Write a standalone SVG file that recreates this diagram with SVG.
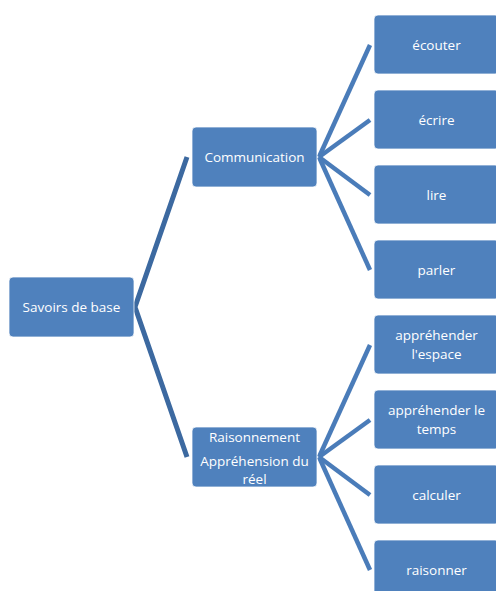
<svg xmlns="http://www.w3.org/2000/svg" width="496" height="591" viewBox="0 0 496 591">
<style>
.box{fill:#4F81BD;stroke:#ffffff;stroke-width:0.75}
.t{fill:#ffffff;font-family:"Open Sans","Noto Sans","Liberation Sans",sans-serif;font-size:13.5px;text-anchor:middle}
.c1{stroke:#3C69A0;stroke-width:5;fill:none;stroke-linecap:butt;stroke-linejoin:miter}
.c2{stroke:#4A7CB9;stroke-width:4.5;fill:none;stroke-linecap:butt}
</style>
<rect width="496" height="591" fill="#ffffff"/>
<g id="connectors">
<polyline class="c1" points="187,157 135,307 187,457"/>
<line class="c2" x1="319" y1="157" x2="370" y2="45"/>
<line class="c2" x1="319" y1="157" x2="370" y2="120"/>
<line class="c2" x1="319" y1="157" x2="370" y2="195"/>
<line class="c2" x1="319" y1="157" x2="370" y2="270"/>
<line class="c2" x1="319" y1="457" x2="370" y2="345"/>
<line class="c2" x1="319" y1="457" x2="370" y2="420"/>
<line class="c2" x1="319" y1="457" x2="370" y2="495"/>
<line class="c2" x1="319" y1="457" x2="370" y2="570"/>
</g>
<g id="savoirs"><rect class="box" x="9" y="277" width="125" height="60" rx="4"/><text class="t" x="71.5" y="312">Savoirs de base</text></g>
<g id="communication"><rect class="box" x="192" y="127" width="125" height="60" rx="4"/><text class="t" x="254.5" y="162">Communication</text></g>
<g id="raisonnement"><rect class="box" x="192" y="427" width="125" height="60" rx="4"/><text class="t" x="254.5" y="442">Raisonnement</text><text class="t" x="254.5" y="466">Appréhension du</text><text class="t" x="254.5" y="484">réel</text></g>
<g id="ecouter"><rect class="box" x="374" y="15" width="125" height="59" rx="4"/><text class="t" x="436.5" y="50">écouter</text></g>
<g id="ecrire"><rect class="box" x="374" y="90" width="125" height="59" rx="4"/><text class="t" x="436.5" y="125">écrire</text></g>
<g id="lire"><rect class="box" x="374" y="165" width="125" height="59" rx="4"/><text class="t" x="436.5" y="200">lire</text></g>
<g id="parler"><rect class="box" x="374" y="240" width="125" height="59" rx="4"/><text class="t" x="436.5" y="275">parler</text></g>
<g id="espace"><rect class="box" x="374" y="315" width="125" height="59" rx="4"/><text class="t" x="436.5" y="340">appréhender</text><text class="t" x="436.5" y="359">l'espace</text></g>
<g id="temps"><rect class="box" x="374" y="390" width="125" height="59" rx="4"/><text class="t" x="436.5" y="415">appréhender le</text><text class="t" x="436.5" y="434">temps</text></g>
<g id="calculer"><rect class="box" x="374" y="465" width="125" height="59" rx="4"/><text class="t" x="436.5" y="500">calculer</text></g>
<g id="raisonner"><rect class="box" x="374" y="540" width="125" height="59" rx="4"/><text class="t" x="436.5" y="575">raisonner</text></g>
</svg>
